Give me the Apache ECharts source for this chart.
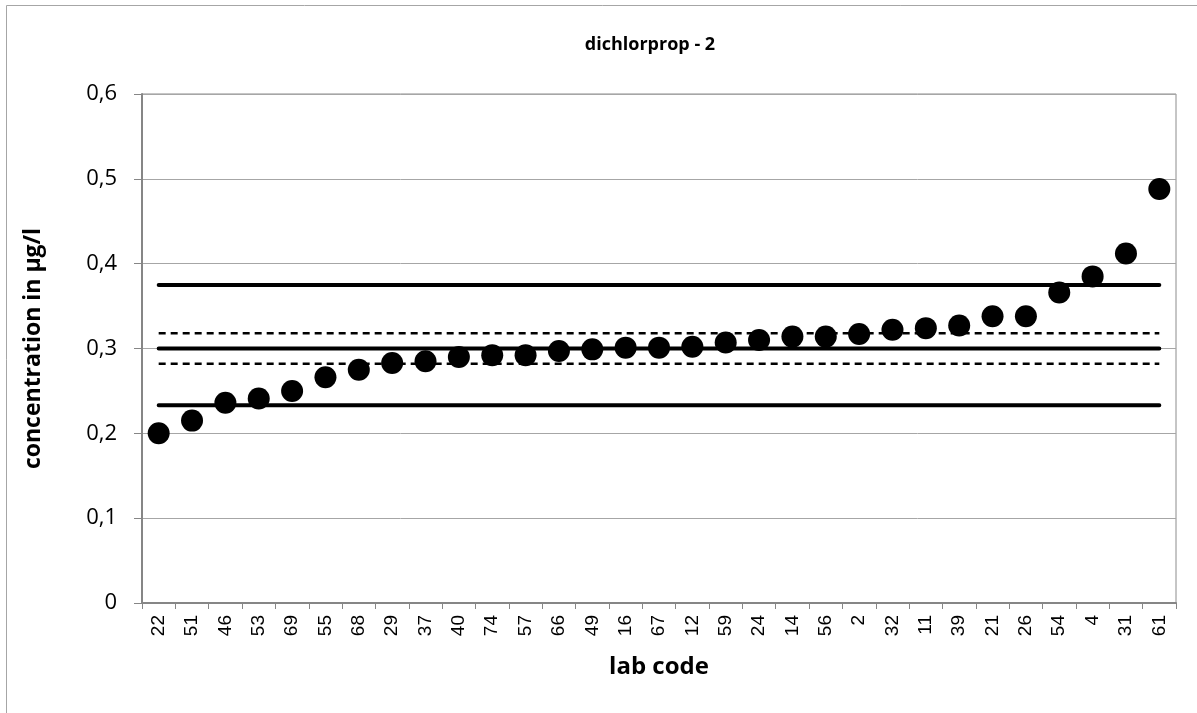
<!DOCTYPE html>
<html>
<head>
<meta charset="utf-8">
<script src="https://cdn.jsdelivr.net/npm/echarts@6/dist/echarts.min.js"></script>
<style>
html,body{margin:0;padding:0;background:#fff;}
#main{width:1197px;height:713px;}
</style>
</head>
<body>
<div id="main"></div>
<script>
const labCodes = ['22','51','46','53','69','55','68','29','37','40','74','57','66','49','16','67','12','59','24','14','56','2','32','11','39','21','26','54','4','31','61'];
const concentrations = [0.200,0.215,0.236,0.241,0.250,0.266,0.275,0.283,0.285,0.290,0.292,0.292,0.297,0.299,0.301,0.301,0.302,0.307,0.310,0.314,0.314,0.317,0.322,0.324,0.327,0.338,0.338,0.366,0.385,0.412,0.488];
const solidLines = [0.375, 0.300, 0.233];
const dashedLines = [0.318, 0.282];
const yTicks = {min: 0, max: 0.6, interval: 0.1};

const chart = echarts.init(document.getElementById('main'));
const font = "'Open Sans', sans-serif";
const series = [];
solidLines.forEach(v => series.push({
  type: 'line', data: labCodes.map(() => v), symbol: 'none', silent: true,
  lineStyle: {color: '#000', width: 4, cap: 'round', opacity: 1}, z: 2
}));
dashedLines.forEach(v => series.push({
  type: 'line', data: labCodes.map(() => v), symbol: 'none', silent: true,
  lineStyle: {color: '#000', width: 2.5, type: [7, 5], opacity: 1}, z: 2
}));
series.push({
  type: 'scatter', data: concentrations, symbol: 'circle', symbolSize: 22,
  itemStyle: {color: '#000', opacity: 1}, z: 5
});

chart.setOption({
  animation: false,
  backgroundColor: '#fff',
  title: {
    text: 'dichlorprop - 2', left: 645, top: 31, textAlign: 'center',
    textStyle: {fontFamily: font, fontWeight: 'bold', fontSize: 18, color: '#000'}
  },
  graphic: [{
    type: 'rect', shape: {x: 6.5, y: 5.5, width: 1400, height: 900},
    style: {fill: 'none', stroke: '#a6a6a6', lineWidth: 1}, silent: true, z: -10
  }],
  grid: {left: 142, right: 21, top: 94, bottom: 110, show: true, borderColor: '#8c8c8c', borderWidth: 1},
  xAxis: {
    type: 'category', data: labCodes, boundaryGap: true,
    name: 'lab code', nameLocation: 'middle', nameGap: 52,
    nameTextStyle: {fontFamily: font, fontWeight: 'bold', fontSize: 24, color: '#000'},
    axisLine: {lineStyle: {color: '#868686', width: 2}},
    axisTick: {show: true, length: 6, lineStyle: {color: '#868686'}},
    axisLabel: {rotate: 90, interval: 0, margin: 12, fontFamily: "'Liberation Sans', Arial, sans-serif", fontSize: 19, color: '#000'},
    splitLine: {show: false}
  },
  yAxis: {
    type: 'value', min: yTicks.min, max: yTicks.max, interval: yTicks.interval,
    name: 'concentration in µg/l', nameLocation: 'middle', nameGap: 97,
    nameTextStyle: {fontFamily: font, fontWeight: 'bold', fontSize: 23, color: '#000'},
    axisLine: {show: true, lineStyle: {color: '#868686', width: 2}},
    axisTick: {show: true, length: 8, lineStyle: {color: '#868686'}},
    axisLabel: {margin: 25, fontFamily: font, fontSize: 22, color: '#000',
      formatter: v => (Math.round(v * 10) / 10).toString().replace('.', ',')},
    splitLine: {lineStyle: {color: '#a6a6a6', width: 1}}
  },
  series: series
});
</script>
</body>
</html>
